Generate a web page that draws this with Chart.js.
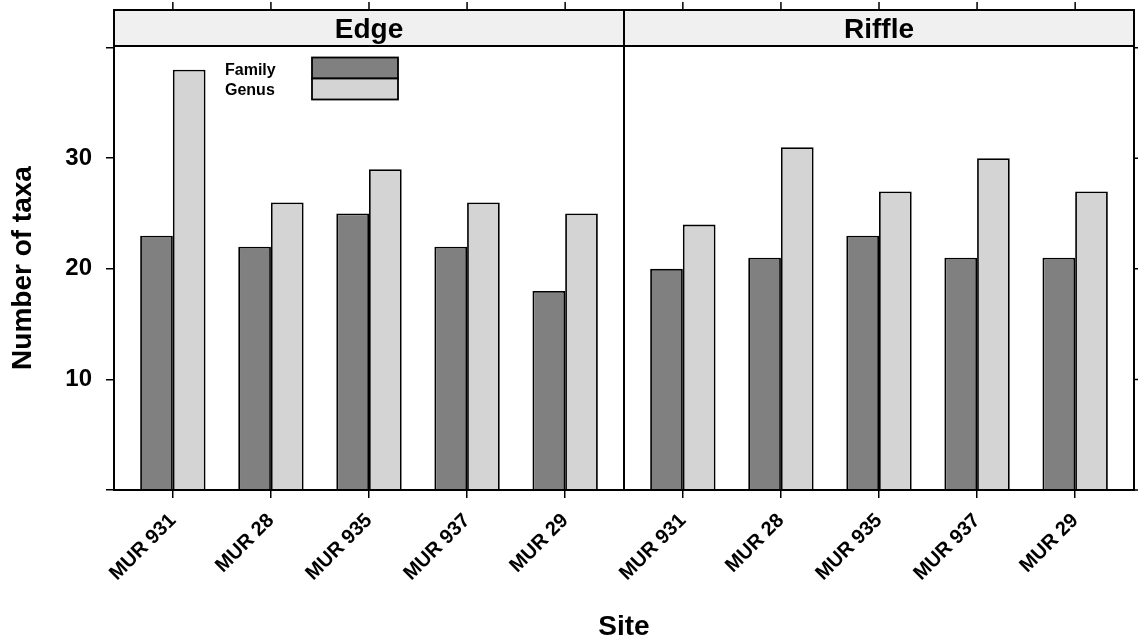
<!DOCTYPE html>
<html>
<head>
<meta charset="utf-8">
<script src="https://cdn.jsdelivr.net/npm/chart.js@4"></script>
<style>
  html, body { margin: 0; padding: 0; background: #fff; }
  #wrap { width: 1138px; height: 644px; }
</style>
</head>
<body>
<div id="wrap"><canvas id="grafico" width="1138" height="644"></canvas></div>
<script>
// datos
const sites = ["MUR 931", "MUR 28", "MUR 935", "MUR 937", "MUR 29"];
const panels = ["Edge", "Riffle"];
const edgeFamily = [23, 22, 25, 22, 18];
const edgeGenus = [38, 26, 29, 26, 25];
const riffleFamily = [20, 21, 23, 21, 21];
const riffleGenus = [24, 31, 27, 30, 27];
const yTicks = [0, 10, 20, 30, 40];
const yLabels = [10, 20, 30];

const colorFamily = "#808080";
const colorGenus = "#d4d4d4";
const fuente = '"Liberation Sans", Arial, Helvetica, sans-serif';

// posicion de cada sitio en el eje x (estilo lattice: 0.6 de margen por panel)
const panelWidth = sites.length + 0.2;
function pos(panel, i) {
  return panel * panelWidth + i + 1;
}
const xPositions = [];
panels.forEach((p, k) => sites.forEach((s, i) => xPositions.push(pos(k, i))));

function serie(panel, valores) {
  return valores.map((v, i) => ({ x: pos(panel, i), y: v }));
}

Chart.defaults.font.family = fuente;
Chart.defaults.font.weight = "bold";
Chart.defaults.color = "#000";

const panelesPlugin = {
  id: "paneles",
  afterDraw(chart) {
    const c = chart.ctx;
    const a = chart.chartArea;
    const xs = chart.scales.x;
    const ys = chart.scales.y;
    c.save();
    c.strokeStyle = "#000";

    // tiras con el nombre del panel
    panels.forEach((nombre, k) => {
      const x0 = xs.getPixelForValue(k * panelWidth + 0.4);
      const x1 = xs.getPixelForValue((k + 1) * panelWidth + 0.4);
      c.fillStyle = "#f0f0f0";
      c.fillRect(x0, 10, x1 - x0, a.top - 10);
      c.lineWidth = 2;
      c.strokeRect(x0, 10, x1 - x0, a.top - 10);
      c.fillStyle = "#000";
      c.font = "bold 28px " + fuente;
      c.textAlign = "center";
      c.textBaseline = "alphabetic";
      c.fillText(nombre, (x0 + x1) / 2, 38);
    });

    // marco y separador de paneles
    c.lineWidth = 2;
    c.strokeRect(a.left, a.top, a.right - a.left, a.bottom - a.top);
    const xm = xs.getPixelForValue(panelWidth + 0.4);
    c.beginPath();
    c.moveTo(xm, 10);
    c.lineTo(xm, a.bottom);
    c.stroke();

    // marcas arriba y a la derecha
    c.lineWidth = 1.5;
    c.beginPath();
    xPositions.forEach(v => {
      const x = xs.getPixelForValue(v);
      c.moveTo(x, 2);
      c.lineTo(x, 10);
    });
    yTicks.forEach(v => {
      const y = ys.getPixelForValue(v);
      c.moveTo(a.right, y);
      c.lineTo(a.right + 8, y);
    });
    c.stroke();

    // leyenda
    c.font = "bold 16px " + fuente;
    c.textAlign = "left";
    c.textBaseline = "alphabetic";
    c.fillStyle = "#000";
    c.fillText("Family", 225, 75);
    c.fillText("Genus", 225, 95);
    c.lineWidth = 1.8;
    c.fillStyle = colorFamily;
    c.fillRect(312, 57.5, 86, 21);
    c.strokeRect(312, 57.5, 86, 21);
    c.fillStyle = colorGenus;
    c.fillRect(312, 78.5, 86, 21);
    c.strokeRect(312, 78.5, 86, 21);
    c.restore();
  }
};

const ctx = document.getElementById("grafico").getContext("2d");
const grafico = new Chart(ctx, {
  type: "bar",
  data: {
    datasets: [
      {
        label: "Family",
        data: serie(0, edgeFamily).concat(serie(1, riffleFamily)),
        backgroundColor: colorFamily,
        borderColor: "#000",
        borderWidth: 1.8
      },
      {
        label: "Genus",
        data: serie(0, edgeGenus).concat(serie(1, riffleGenus)),
        backgroundColor: colorGenus,
        borderColor: "#000",
        borderWidth: 1.8
      }
    ]
  },
  options: {
    responsive: false,
    animation: false,
    categoryPercentage: 2 / 3,
    barPercentage: 1,
    layout: { padding: { top: 46, right: 4, left: 0, bottom: 0 } },
    plugins: {
      legend: { display: false },
      tooltip: { enabled: false }
    },
    scales: {
      x: {
        type: "linear",
        offset: false,
        min: 0.4,
        max: 2 * panelWidth + 0.4,
        afterBuildTicks(scale) {
          scale.ticks = xPositions.map(v => ({ value: v }));
        },
        afterFit(scale) {
          scale.height = 154;
        },
        ticks: {
          autoSkip: false,
          minRotation: 45,
          maxRotation: 45,
          padding: 11,
          font: { size: 20 },
          callback: (v, i) => sites[i % sites.length]
        },
        grid: {
          offset: false,
          drawOnChartArea: false,
          drawTicks: true,
          tickLength: 8,
          color: "#000",
          lineWidth: 1.5
        },
        border: { display: false },
        title: {
          display: true,
          text: "Site",
          font: { size: 28 },
          padding: { top: 0, bottom: 0 }
        }
      },
      y: {
        min: 0,
        max: 40.15,
        afterBuildTicks(scale) {
          scale.ticks = yTicks.map(v => ({ value: v }));
        },
        afterFit(scale) {
          scale.width = 114;
        },
        ticks: {
          padding: 14,
          font: { size: 24 },
          callback: v => (yLabels.includes(v) ? v : "")
        },
        grid: {
          drawOnChartArea: false,
          drawTicks: true,
          tickLength: 8,
          color: "#000",
          lineWidth: 1.5
        },
        border: { display: false },
        title: {
          display: true,
          text: "Number of taxa",
          font: { size: 28 },
          padding: { top: 6, bottom: 0 }
        }
      }
    }
  },
  plugins: [panelesPlugin]
});
</script>
</body>
</html>
